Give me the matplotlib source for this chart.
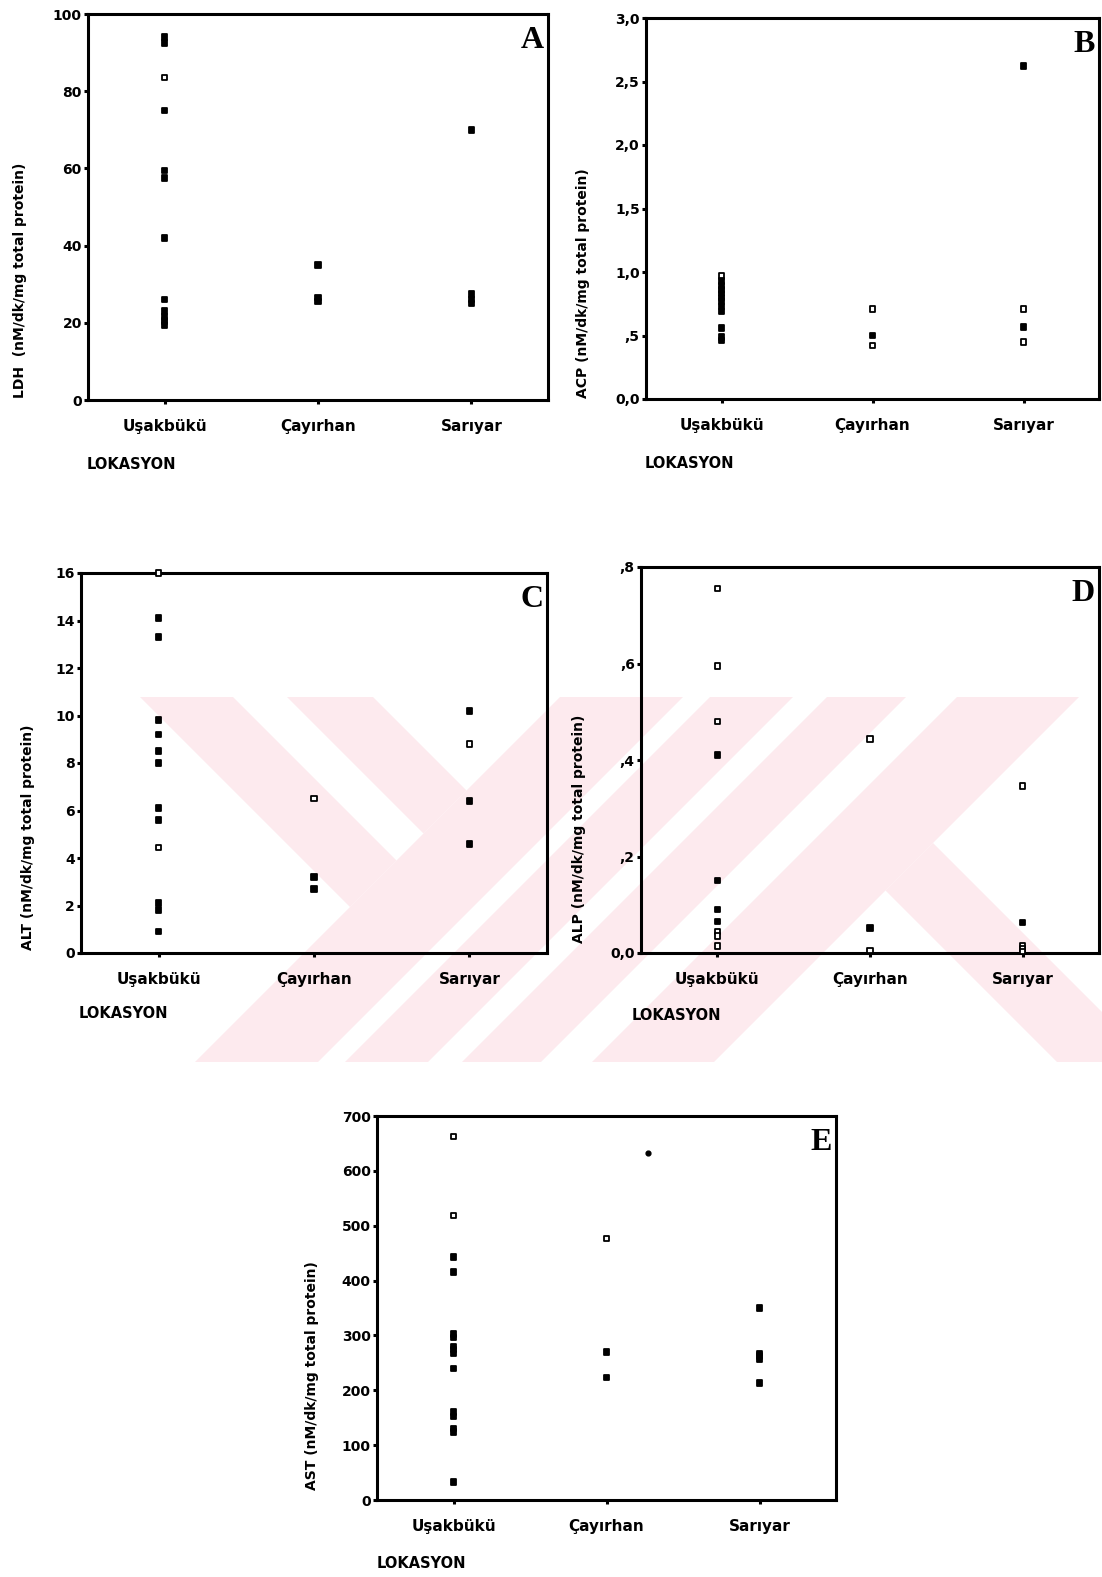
import matplotlib
matplotlib.use('Agg')
import matplotlib.pyplot as plt
from matplotlib.patches import Polygon

# ---------------- data ----------------
categories = ['Uşakbükü', 'Çayırhan', 'Sarıyar']

ldh_usak = [94, 92.5, 83.5, 75, 59.5, 57.5, 42, 26, 23, 21.5, 20.5, 19.5]
ldh_cayir = [35, 26.5, 25.5]
ldh_sari = [70, 27.5, 26, 25]

acp_usak = [0.97, 0.93, 0.89, 0.86, 0.83, 0.80, 0.77, 0.73, 0.69, 0.56, 0.49, 0.46]
acp_cayir = [0.71, 0.50, 0.42]
acp_sari = [2.62, 0.71, 0.565, 0.45]

alt_usak = [16.0, 14.1, 13.3, 9.8, 9.2, 8.5, 8.0, 6.1, 5.6, 4.45, 2.1, 1.8, 0.9]
alt_cayir = [6.5, 3.2, 2.7]
alt_sari = [10.2, 8.8, 6.4, 4.6]

alp_usak = [0.755, 0.595, 0.48, 0.41, 0.15, 0.09, 0.065, 0.045, 0.035, 0.015]
alp_cayir = [0.443, 0.052, 0.005]
alp_sari = [0.346, 0.063, 0.016, 0.008, 0.003]

ast_usak = [663, 519, 443, 416, 303, 296, 280, 274, 267, 240, 160, 152, 130, 124, 33]
ast_cayir = [477, 270, 223]
ast_sari = [350, 267, 262, 256, 213]
ast_extra_pos = [2.27]   # stray point plotted right of Çayırhan
ast_extra = [633]

# indices of hollow (open) markers per group
ldh_open = [[2], [], []]
acp_open = [[0], [0, 2], [1, 3]]
alt_open = [[0, 9], [0], [1]]
alp_open = [[0, 1, 2, 7, 8, 9], [0, 2], [0, 2, 3, 4]]
ast_open = [[0, 1], [0], []]

ldh_ticks = [0, 20, 40, 60, 80, 100]
ldh_labels = ['0', '20', '40', '60', '80', '100']
acp_ticks = [0, 0.5, 1.0, 1.5, 2.0, 2.5, 3.0]
acp_labels = ['0,0', ',5', '1,0', '1,5', '2,0', '2,5', '3,0']
alt_ticks = [0, 2, 4, 6, 8, 10, 12, 14, 16]
alt_labels = [str(v) for v in alt_ticks]
alp_ticks = [0, 0.2, 0.4, 0.6, 0.8]
alp_labels = ['0,0', ',2', ',4', ',6', ',8']
ast_ticks = [0, 100, 200, 300, 400, 500, 600, 700]
ast_labels = [str(v) for v in ast_ticks]

# ---------------- figure ----------------
W, H = 1102, 1577
fig = plt.figure(figsize=(W / 100, H / 100), dpi=100)
fig.patch.set_facecolor('white')

# background watermark (pale pink stripes)
bg = fig.add_axes([0, 0, 1, 1], zorder=-10)
bg.set_xlim(0, W)
bg.set_ylim(H, 0)
bg.axis('off')


def clip(poly, a, b, c):
    out = []
    n = len(poly)
    for i in range(n):
        p = poly[i]
        q = poly[(i + 1) % n]
        fp = a * p[0] + b * p[1] - c
        fq = a * q[0] + b * q[1] - c
        if fp <= 0:
            out.append(p)
        if fp * fq < 0:
            t = fp / (fp - fq)
            out.append((p[0] + t * (q[0] - p[0]), p[1] + t * (q[1] - p[1])))
    return out


Y0, Y1 = 697, 1062


def region(d=None, s=None):
    poly = [(0, Y0), (W, Y0), (W, Y1), (0, Y1)]
    if d is not None:
        lo, hi = d
        if lo is not None:
            poly = clip(poly, -1, 1, -lo)
        if hi is not None:
            poly = clip(poly, 1, -1, hi)
    if s is not None:
        lo, hi = s
        if lo is not None:
            poly = clip(poly, -1, -1, -lo)
        if hi is not None:
            poly = clip(poly, 1, 1, hi)
    return poly


pink = '#fdeaee'
shapes = [
    region(d=(-557, -464), s=(None, 1257)),
    region(d=(-410, -324), s=(None, 1257)),
    region(s=(1257, 1380)),
    region(s=(1407, 1490)),
    region(s=(1524, 1603)),
    region(s=(1654, 1776)),
    region(d=(-5, 90), s=(1776, None)),
]
for sh in shapes:
    if len(sh) >= 3:
        bg.add_patch(Polygon(sh, closed=True, facecolor=pink, edgecolor='none'))


def add_ax(l, r, t, b):
    return fig.add_axes([l / W, 1 - b / H, (r - l) / W, (b - t) / H])


def panel(box, groups, opens, ylim, ticks, tlabels, letter, ylabel, ylab_pos,
          lok_pos, extra=None):
    ax = add_ax(*box)
    ax.set_facecolor('none')
    for i, (vals, op) in enumerate(zip(groups, opens)):
        xs = [i + 1] * len(vals)
        fc = ['white' if j in op else 'black' for j in range(len(vals))]
        ax.scatter(xs, vals, marker='s', s=16, facecolors=fc,
                   edgecolors='black', linewidths=1.3, zorder=3, clip_on=False)
    if extra is not None:
        ax.scatter(extra[0], extra[1], marker='o', s=12, color='black', zorder=3)
    ax.set_xlim(0.5, 3.5)
    ax.set_ylim(*ylim)
    ax.set_xticks([1, 2, 3])
    ax.set_xticklabels(categories, fontsize=11, fontweight='bold')
    ax.set_yticks(ticks)
    ax.set_yticklabels(tlabels, fontsize=10, fontweight='bold')
    ax.tick_params(axis='both', direction='out', length=3, width=2.2,
                   color='black')
    ax.tick_params(axis='x', pad=11)
    ax.tick_params(axis='y', pad=1.5)
    for sp in ax.spines.values():
        sp.set_linewidth(2.2)
        sp.set_color('black')
    ax.text(1 - 4 / (box[1] - box[0]), 1 - 12 / (box[3] - box[2]), letter,
            transform=ax.transAxes, ha='right', va='top', fontsize=23,
            fontweight='bold', family='Liberation Serif')
    fig.text(ylab_pos[0] / W, 1 - ylab_pos[1] / H, ylabel, rotation=90,
             ha='center', va='bottom', fontsize=10, fontweight='bold')
    fig.text(lok_pos[0] / W, 1 - lok_pos[1] / H, 'LOKASYON', ha='left',
             va='center', fontsize=10.5, fontweight='bold')
    return ax


panel((88, 548, 14, 400), [ldh_usak, ldh_cayir, ldh_sari], ldh_open, (0, 100),
      ldh_ticks, ldh_labels, 'A', 'LDH  (nM/dk/mg total protein)', (20, 398),
      (87, 465))
panel((646, 1099, 18, 399), [acp_usak, acp_cayir, acp_sari], acp_open, (0, 3),
      acp_ticks, acp_labels, 'B', 'ACP (nM/dk/mg total protein)', (583, 398),
      (645, 464))
panel((81, 547, 573, 953), [alt_usak, alt_cayir, alt_sari], alt_open, (0, 16),
      alt_ticks, alt_labels, 'C', 'ALT (nM/dk/mg total protein)', (28, 950),
      (79, 1013))
panel((641, 1099, 567, 953), [alp_usak, alp_cayir, alp_sari], alp_open, (0, 0.8),
      alp_ticks, alp_labels, 'D', 'ALP (nM/dk/mg total protein)', (579, 943),
      (632, 1015))
panel((377, 836, 1116, 1500), [ast_usak, ast_cayir, ast_sari], ast_open, (0, 700),
      ast_ticks, ast_labels, 'E', 'AST (nM/dk/mg total protein)', (312, 1490),
      (377, 1563), extra=(ast_extra_pos, ast_extra))

fig.savefig('out.png', dpi=100, facecolor='white')
